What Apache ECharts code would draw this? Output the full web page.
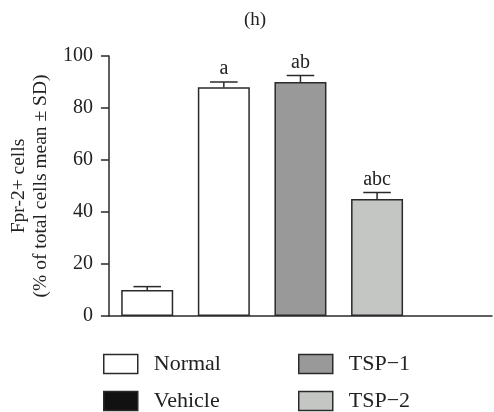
<!DOCTYPE html>
<html>
<head>
<meta charset="utf-8">
<script src="https://cdn.jsdelivr.net/npm/echarts@6/dist/echarts.min.js"></script>
<style>
  html, body { margin: 0; padding: 0; background: #fff; }
  #view1 { width: 494px; height: 412px; }
</style>
</head>
<body>
<div id="view1"></div>
<script>
// slots on the x axis (the last one is empty in the figure)
var slots = ['Normal', 'Vehicle', 'TSP-1', 'TSP-2', ''];
var means = [10, 88, 90, 45];
var sds = [1.3, 2, 2.5, 2.5];
var letters = ['', 'a', 'ab', 'abc'];
var legendNames = ['Normal', 'Vehicle', 'TSP\u22121', 'TSP\u22122'];
var barColors = ['#ffffff', '#ffffff', '#999999', '#c4c6c4'];
var legendColors = ['#ffffff', '#111111', '#999999', '#c4c6c4'];
var yTicks = [0, 20, 40, 60, 80, 100];

var FONT = 'Liberation Serif';
var INK = '#2a2a2a';

function Init(option, id) {
	var myChart = echarts.init(document.getElementById(id));
	myChart.setOption(option);
}

// one stacked series per group so the legend gets its names
var series = means.map(function(v, i) {
	var d = slots.map(function(s, j) { return j == i ? v : '-'; });
	return {
		name: legendNames[i], type: 'bar', stack: 'all', barWidth: 52, data: d,
		itemStyle: { color: barColors[i], borderColor: INK, borderWidth: 1.5 },
		emphasis: { disabled: true }
	};
});

// error bars + letters
series.push({
	type: 'custom', silent: true, z: 5,
	data: means.map(function(v, i) { return [i, v, sds[i]]; }),
	renderItem: function(params, api) {
		var i = api.value(0), m = api.value(1), sd = api.value(2);
		var top = api.coord([i, m]);
		var cap = api.coord([i, m + sd]);
		var hw = api.size([1, 0])[0] * 0.18;
		var st = { stroke: INK, lineWidth: 1.5 };
		return {
			type: 'group',
			children: [
				{ type: 'line', shape: { x1: top[0], y1: top[1], x2: cap[0], y2: cap[1] }, style: st },
				{ type: 'line', shape: { x1: cap[0] - hw, y1: cap[1], x2: cap[0] + hw, y2: cap[1] }, style: st },
				{ type: 'text', x: cap[0], y: cap[1] - 3,
				  style: { text: letters[params.dataIndex], fill: '#222', font: '20px "' + FONT + '"',
				           textAlign: 'center', textVerticalAlign: 'bottom' } }
			]
		};
	}
});

function legendItems(idx) {
	return idx.map(function(i) {
		return { name: legendNames[i], icon: 'rect',
			itemStyle: { color: legendColors[i], borderColor: INK, borderWidth: 1.5 } };
	});
}
var legendText = { fontFamily: FONT, fontSize: 22, lineHeight: 19, color: '#222', padding: [0, 0, 0, 11] };

var option = {
	animation: false,
	title: {
		text: '(h)', left: 250, top: 6, textAlign: 'center',
		textStyle: { fontFamily: FONT, fontSize: 19, fontWeight: 'normal', color: '#222' }
	},
	legend: [
		{ left: 103, top: 353, padding: 0, orient: 'vertical', itemWidth: 34, itemHeight: 19, itemGap: 15,
		  selectedMode: false, data: legendItems([0, 1]), textStyle: legendText },
		{ left: 298, top: 353, padding: 0, orient: 'vertical', itemWidth: 34, itemHeight: 19, itemGap: 15,
		  selectedMode: false, data: legendItems([2, 3]), textStyle: legendText }
	],
	grid: { left: 104, right: 2, top: 56, bottom: 96 },
	xAxis: {
		type: 'category', data: slots,
		axisLine: { lineStyle: { color: INK, width: 1.5 } },
		axisTick: { alignWithLabel: true, length: 8, lineStyle: { color: INK, width: 1.5 },
			interval: function(idx) { return idx == 2; } },
		axisLabel: { show: false }
	},
	yAxis: {
		type: 'value', min: yTicks[0], max: yTicks[yTicks.length - 1], interval: 20,
		name: 'Fpr-2+ cells\n(% of total cells mean ± SD)',
		nameLocation: 'middle', nameGap: 53,
		nameTextStyle: { fontFamily: FONT, fontSize: 19.5, color: '#222', lineHeight: 22, align: 'center' },
		splitLine: { show: false },
		axisLine: { show: true, lineStyle: { color: INK, width: 1.5 } },
		axisTick: { show: true, length: 8, lineStyle: { color: INK, width: 1.5 } },
		axisLabel: { margin: 16, fontFamily: FONT, fontSize: 20, color: '#222' }
	},
	series: series
};

Init(option, 'view1');
</script>
</body>
</html>
